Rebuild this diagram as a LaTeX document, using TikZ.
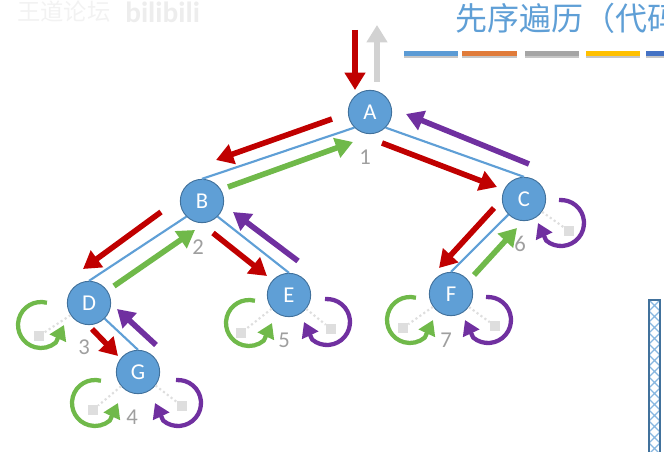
\documentclass[tikz,border=0pt]{standalone}
\usepackage{fontspec}
\setmainfont{Carlito}
\newfontfamily\cjk{Noto Sans CJK SC}
\usepackage{xcolor}
\usetikzlibrary{arrows.meta,positioning}
\definecolor{nodeblue}{HTML}{5F9FD6}
\definecolor{nodeline}{HTML}{41719C}
\definecolor{arrred}{HTML}{C00000}
\definecolor{arrgreen}{HTML}{70B94A}
\definecolor{arrpurple}{HTML}{7030A0}
\definecolor{nullgray}{HTML}{DEDEDE}
\tikzset{
  treenode/.style={circle,draw=nodeline,fill=nodeblue,line width=.7pt,minimum size=32.5pt,
    inner sep=0pt,text=white,font=\fontsize{17}{17}\selectfont},
  treeedge/.style={draw=nodeblue,line width=1.6pt},
  walk/.style={line width=4.2pt,-{Triangle[length=13pt,width=15pt]}},
  looparrow/.style={line width=3.2pt,-{Triangle[length=11pt,width=13pt]}},
  orderlabel/.style={text=gray!75,font=\fontsize{17}{17}\selectfont,inner sep=0pt},
  nullbox/.style={fill=nullgray,minimum size=7.5pt,inner sep=0pt},
  nullline/.style={draw=nullgray,line width=1.6pt,dotted},
}
\begin{document}
\begin{tikzpicture}[x=.75pt,y=.75pt]
\useasboundingbox (0,0) rectangle (664,-452);
\node [text=gray!10,font=\cjk\fontsize{17.5}{17.5}\selectfont,anchor=west,inner sep=0pt]
  (mark) at (17,-12) {王道论坛};
\node [text=gray!14,font=\bfseries\fontsize{22}{22}\selectfont,anchor=west,inner sep=0pt]
  (site) at (125,-12) {bilibili};
\begin{scope}
\clip (0,0) rectangle (664,-452);
\node [text=nodeblue,font=\cjk\fontsize{24}{24}\selectfont,anchor=west,inner sep=0pt]
  (title) at (455,-18) {先序遍历（代码};
\foreach \xa/\xb/\barcolor in {404/458/5B9BD5,462/517/E07B39,525/579/A5A5A5,586/640/FFC000,646/670/4472C4} {
  \definecolor{barfill}{HTML}{\barcolor}
  \fill [gray!45] (\xa,-53) rectangle (\xb,-58);
  \fill [barfill] (\xa,-51) rectangle (\xb,-56.5);
}
\end{scope}
% hatched bar
\begin{scope}
\clip (649,-300) rectangle (660,-452);
\foreach \y in {-300,-311,...,-454} {
  \draw [nodeblue!75,line width=.9pt] (649,\y) -- (660,\y-11) (660,\y) -- (649,\y-11);
}
\end{scope}
\draw [nodeline,line width=1pt] (649,-455) -- (649,-300) -- (660,-300) -- (660,-455);
% tree
\node [treenode] (A) at (370,-112) {A};
\node [treenode] (B) at (202,-201) {B};
\node [treenode] (C) at (524,-199) {C};
\node [treenode] (D) at (89,-303) {D};
\node [treenode] (E) at (289,-295) {E};
\node [treenode] (F) at (451,-294) {F};
\node [treenode] (G) at (138,-372) {G};
\draw [treeedge] (A.south west) -- (B.north);
\draw [treeedge] (A.south east) -- (C.north);
\draw [treeedge] (B.south west) -- (D.north);
\draw [treeedge] (B.south east) -- (E.north);
\draw [treeedge] (D.south east) -- (G.north);
\draw [treeedge] (C.south west) -- (F.north);
% walk arrows
\coordinate (in) at (355,-30);
\coordinate (out) at (377,-82);
\coordinate (up) at (377,-25);
\draw [walk,arrred] (in) -- ([shift={(-15,22)}]A.center);
\draw [walk,gray!35] (out) -- (up);
\draw [walk,arrred] ([shift={(-38,-7)}]A.center) -- ([shift={(14,41)}]B.center);
\draw [walk,arrgreen] ([shift={(26,14)}]B.center) -- ([shift={(-17,-30)}]A.center);
\draw [walk,arrred] ([shift={(12,-31)}]A.center) -- ([shift={(-27,12)}]C.center);
\draw [walk,arrpurple] ([shift={(5,35)}]C.center) -- ([shift={(36,-2)}]A.center);
\draw [walk,arrred] ([shift={(-41,-11)}]B.center) -- ([shift={(-6,34)}]D.center);
\draw [walk,arrgreen] ([shift={(25,17)}]D.center) -- ([shift={(-7,-29)}]B.center);
\draw [walk,arrred] ([shift={(11,-32)}]B.center) -- ([shift={(-22,19)}]E.center);
\draw [walk,arrpurple] ([shift={(9,34)}]E.center) -- ([shift={(31,-11)}]B.center);
\draw [walk,arrred] ([shift={(3,-26)}]D.center) -- ([shift={(-20,16)}]G.center);
\draw [walk,arrpurple] ([shift={(18,27)}]G.center) -- ([shift={(28,-6)}]D.center);
\draw [walk,arrred] ([shift={(-30,-9)}]C.center) -- ([shift={(-12,26)}]F.center);
\draw [walk,arrgreen] ([shift={(23,19)}]F.center) -- ([shift={(-7,-29)}]C.center);
% empty children
\foreach \parent/\child/\dx/\dy/\hue/\anga/\angb/\tipx/\cx/\cy in {
  D/Dl/-50/-33/arrgreen/75/310/23/2/11,
  E/El/-48/-38/arrgreen/75/310/23/8/10,
  G/Gl/-45/-38/arrgreen/75/310/23/2/7,
  F/Fl/-48/-34/arrgreen/75/310/23/7/8,
  E/Er/42/-34/arrpurple/95/-130/-23/-4/7,
  G/Gr/44/-34/arrpurple/95/-130/-23/-4/3,
  F/Fr/44/-32/arrpurple/95/-130/-23/-7/6,
  C/Cr/45/-32/arrpurple/95/-130/-23/-8/8} {
  \node [nullbox] (\child) at ([shift={(\dx,\dy)}]\parent.center) {};
  \draw [nullline] (\parent) -- (\child);
  \coordinate (\child c) at ([shift={(\cx,\cy)}]\child.center);
  \draw [looparrow,\hue] ([shift={(\anga:17.25pt)}]\child c)
    arc [start angle=\anga,end angle=\angb,radius=17.25pt] -- ([shift={(\tipx,0)}]\child c);
}
% visit order
\node [orderlabel] (n1) at (365,-157) {1};
\node [orderlabel] (n2) at (198,-247) {2};
\node [orderlabel] (n3) at (84,-347) {3};
\node [orderlabel] (n4) at (132,-417) {4};
\node [orderlabel] (n5) at (284,-340) {5};
\node [orderlabel] (n6) at (520,-244) {6};
\node [orderlabel] (n7) at (446,-340) {7};
\end{tikzpicture}
\end{document}
